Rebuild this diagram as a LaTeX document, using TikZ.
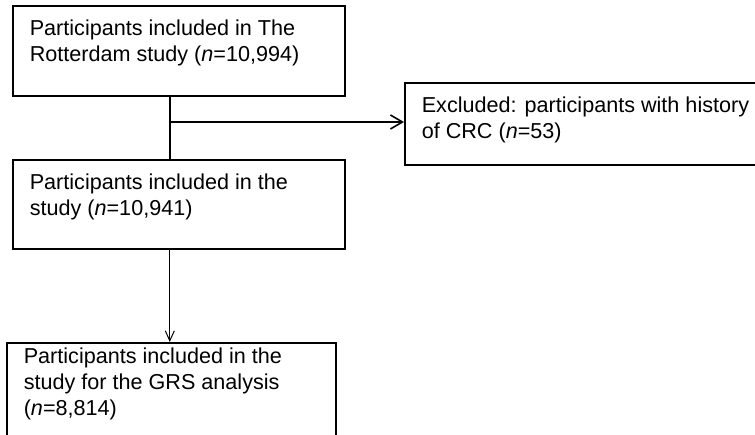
\documentclass[tikz,border=0pt]{standalone}
\usepackage{fontspec}
\setmainfont{Liberation Sans}
\usepackage{tikz}
\usetikzlibrary{arrows.meta, positioning, calc}

\newcommand{\boxtext}[3]{\parbox[t][#2][t]{#1}{#3}}

\begin{document}
\begin{tikzpicture}[x=1pt, y=-1pt,
    flowbox/.style={draw, line width=1.6pt, anchor=north west, inner xsep=17pt, inner ysep=14.5pt,
        font=\fontsize{21.6}{26}\selectfont},
    link/.style={line width=1.6pt},
    arrow/.style={line width=1pt, -{Straight Barb[length=12pt, width=14pt]}}]
    \useasboundingbox (0,0) rectangle (755,434);

    % Boxes
    \node[flowbox] (rotterdam) at (12,5)
        {\boxtext{298pt}{61pt}{Participants included in The\\Rotterdam study (\textit{n}=10,994)}};
    \node[flowbox] (excluded) at (404,82)
        {\boxtext{340pt}{53pt}{Excluded: participants with history\\of CRC (\textit{n}=53)}};
    \node[flowbox, inner ysep=14pt] (included) at (12,159)
        {\boxtext{298pt}{61pt}{Participants included in the\\study (\textit{n}=10,941)}};
    \node[flowbox, inner ysep=5.5pt] (grs) at (6,342)
        {\boxtext{295pt}{110pt}{Participants included in the\\study for the GRS analysis\\(\textit{n}=8,814)}};

    % Connectors
    \coordinate (split) at (170,122);
    \draw[link] (rotterdam.south -| split) -- (included.north -| split);
    \draw[arrow, line width=1.6pt] (split) -- (split -| excluded.west);
    \draw[arrow, -{Straight Barb[length=10pt, width=9pt]}] ([xshift=-9pt]included.south) -- ([xshift=-9pt]included.south |- grs.north);
\end{tikzpicture}
\end{document}
